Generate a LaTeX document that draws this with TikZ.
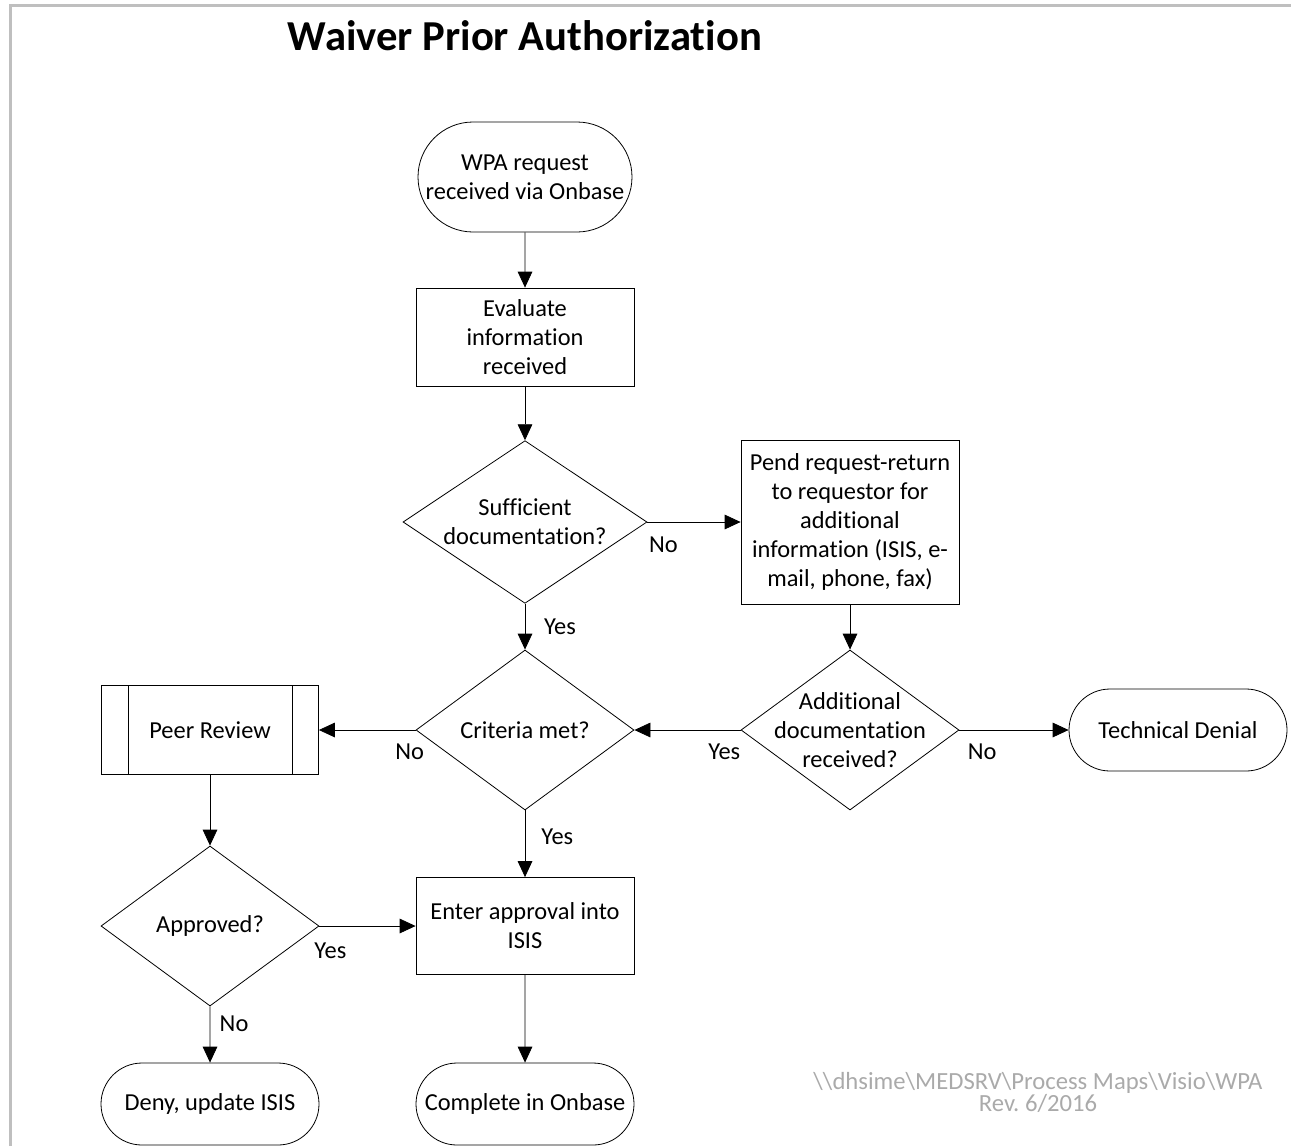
\documentclass[tikz,border=0pt]{standalone}
\usepackage{fontspec}
\setmainfont{Carlito}[Ligatures=NoCommon]
\usetikzlibrary{shapes.geometric,shapes.misc,arrows.meta}

\definecolor{framegray}{RGB}{191,191,191}
\definecolor{footgray}{RGB}{170,170,170}
\newcommand{\flowfont}{\fontsize{18.3pt}{21.75pt}\selectfont}
\frenchspacing

\begin{document}
\begin{tikzpicture}[x=0.75pt,y=-0.75pt,
	proc/.style={draw,rectangle,minimum width=163.5pt,align=center,inner sep=0pt,line width=0.6pt},
	term/.style={draw,rounded rectangle,minimum width=163.5pt,minimum height=61.5pt,align=center,inner sep=0pt,line width=0.6pt},
	decision/.style={draw,diamond,minimum width=163.5pt,minimum height=120pt,inner sep=0pt,line width=0.6pt},
	dtext/.style={align=center,inner sep=0pt},
	lbl/.style={inner sep=3pt},
	arr/.style={line width=0.6pt,-{Triangle[length=12pt,width=11pt]}},
	every node/.style={font=\flowfont}]
	\useasboundingbox (0,0) rectangle (1291,1146);
	\draw[framegray,line width=2.25pt] (10,1146) -- (10,5) -- (1291,5);

	\node[font=\fontsize{32pt}{38pt}\selectfont\bfseries] (title) at (525,36) {Waiver Prior Authorization};

	\node[term,minimum width=160.5pt,minimum height=82.5pt] (start) at (525,177) {WPA request\\received via Onbase};
	\node[proc,minimum height=73.5pt] (eval) at (525,337) {Evaluate\\information\\received};
	\node[decision,minimum width=183pt,minimum height=122pt] (suff) at (525,522) {};
	\node[dtext] (suff-t) at (suff) {Sufficient\\documentation?};
	\node[proc,minimum height=123pt] (pend) at (850,522) {Pend request-return\\to requestor for\\additional\\information (ISIS, e-\\mail, phone, fax)};
	\node[decision] (crit) at (525,730) {};
	\node[dtext] (crit-t) at (crit) {Criteria met?};
	\node[decision] (addl) at (850,730) {};
	\node[dtext] (addl-t) at (addl) {Additional\\documentation\\received?};
	\node[term] (tech) at (1178,730) {Technical Denial};
	\node[proc,minimum width=162.75pt,minimum height=66.75pt] (peer) at (210,730) {Peer Review};
	\draw[line width=0.6pt] ([xshift=20.25pt]peer.north west) -- ([xshift=20.25pt]peer.south west);
	\draw[line width=0.6pt] ([xshift=-20.25pt]peer.north east) -- ([xshift=-20.25pt]peer.south east);
	\node[decision] (appr) at (210,926) {};
	\node[dtext] (appr-t) at (appr) {Approved?};
	\node[proc,minimum height=72.75pt] (enter) at (525,926) {Enter approval into\\ISIS};
	\node[term] (deny) at (210,1104) {Deny, update ISIS};
	\node[term] (done) at (525,1104) {Complete in Onbase};

	% connectors
	\draw[arr] (start) -- (eval);
	\draw[arr] (eval) -- (suff);
	\draw[arr] (suff) -- node[lbl,at start,anchor=north west,yshift=-8pt,xshift=-2pt] (suff-no) {No} (pend);
	\draw[arr] (suff) -- node[lbl,right,xshift=11pt] (suff-yes) {Yes} (crit);
	\draw[arr] (pend) -- (addl);
	\draw[arr] (addl) -- node[lbl,at start,anchor=north east,yshift=-7pt,xshift=3pt] (addl-yes) {Yes} (crit);
	\draw[arr] (addl) -- node[lbl,at start,anchor=north west,yshift=-7pt,xshift=3pt] (addl-no) {No} (tech);
	\draw[arr] (crit) -- node[lbl,at start,anchor=north,yshift=-7pt,xshift=-4.5pt] (crit-no) {No} (peer);
	\draw[arr] (crit) -- node[lbl,right,pos=0.4,xshift=9pt] (crit-yes) {Yes} (enter);
	\draw[arr] (peer) -- (appr);
	\draw[arr] (appr) -- node[lbl,at start,anchor=north west,yshift=-9pt,xshift=-7pt] (appr-yes) {Yes} (enter);
	\draw[arr] (appr) -- node[lbl,right,pos=0.3,xshift=4pt] (appr-no) {No} (deny);
	\draw[arr] (enter) -- (done);

	\node[align=center,text=footgray,font=\fontsize{18.5pt}{16.5pt}\selectfont] (foot) at (1038,1092) {\textbackslash\textbackslash dhsime\textbackslash MEDSRV\textbackslash Process Maps\textbackslash Visio\textbackslash WPA\\Rev. 6/2016};
\end{tikzpicture}
\end{document}
